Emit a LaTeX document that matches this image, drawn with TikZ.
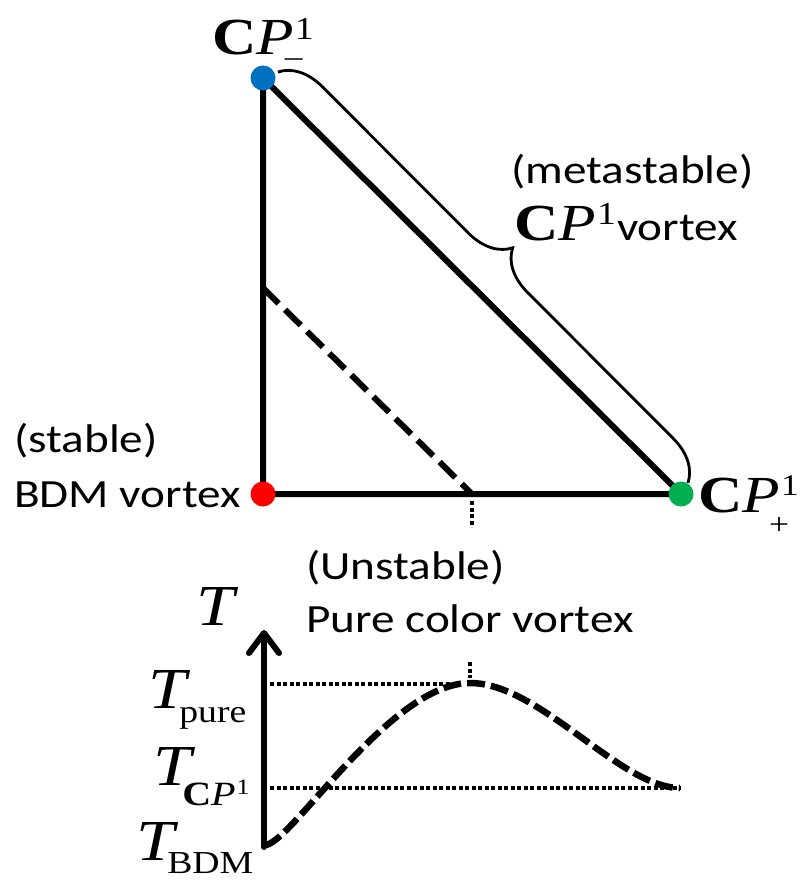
\documentclass[tikz,border=0pt]{standalone}
\usepackage{fontspec}
\setmainfont[FakeStretch=1.18]{Carlito}
\newfontfamily\tms[FakeStretch=1.18]{Liberation Serif}
\usetikzlibrary{decorations.pathreplacing,arrows.meta}
\definecolor{cpblue}{RGB}{0,112,192}
\definecolor{cpgreen}{RGB}{0,176,80}
\definecolor{bdmred}{RGB}{255,0,0}
\newcommand\sz[1]{\fontsize{#1}{#1}\selectfont}
% C P^1 with optional subscript
\newcommand\cpone[4]{{\tms\sz{#1}\upshape\bfseries C}{\tms\sz{#1}\mdseries\itshape P}\kern1pt\rlap{\raisebox{#3}{\tms\sz{#2}\upshape\mdseries 1}}#4}
\begin{document}
\begin{tikzpicture}[x=1pt,y=-1pt,
  thick line/.style={line width=6pt,line cap=round,line join=round},
  dash line/.style={line width=6pt,dash pattern=on 22pt off 9pt},
  curve dash/.style={line width=6.5pt,dash pattern=on 18pt off 6pt},
  dot line/.style={line width=4.5pt,dash pattern=on 4pt off 2.5pt},
  vdot/.style={circle,inner sep=0pt,minimum size=25pt,draw=none},
  txt/.style={inner sep=0pt,anchor=base west,font=\sz{40}},
  mth/.style={inner sep=0pt,anchor=base west},
  bracestyle/.style={line width=2.8pt,decorate,decoration={brace,amplitude=42pt,aspect=0.5}}]
\useasboundingbox (0,0) rectangle (800,880);
% triangle vertices
\coordinate (vm) at (263,78);
\coordinate (vb) at (263,494);
\coordinate (vp) at (681,494);
\draw[thick line] (vm) -- (vb) -- (vp) -- cycle;
% dashed line
\coordinate (dA) at (263,288);
\coordinate (dB) at (472,494);
\draw[dash line] (dA) -- (dB);
\coordinate (tk0) at (472,501);
\coordinate (tk1) at (472,527);
\draw[dot line] (tk0) -- (tk1);
% brace
\coordinate (br0) at (278,72);
\coordinate (br1) at (688,483);
\draw[bracestyle] (br0) -- (br1);
% dots
\node[vdot,fill=cpblue] (cpm) at (vm) {};
\node[vdot,fill=bdmred] (bdm) at (vb) {};
\node[vdot,fill=cpgreen] (cpp) at (vp) {};
% vertex labels
\node[mth] (lcpm) at (212,55) {\cpone{52}{32}{15pt}{\kern-10pt\raisebox{-12pt}{\tms\sz{30}–}}};
\node[mth] (lcpp) at (698,512) {\cpone{52}{30}{17pt}{\kern-12pt\raisebox{-22pt}{\tms\sz{30}+}}};
\node[txt] (lmeta1) at (511,183) {(metastable)};
\node[txt] (lmeta2) at (514,240) {\cpone{52}{32}{16pt}{\kern20pt}vortex};
\node[txt] (lstab1) at (14,452) {(stable)};
\node[txt] (lstab2) at (14,507) {BDM vortex};
\node[txt] (luns1) at (306,579) {(Unstable)};
\node[txt] (luns2) at (306,632) {Pure color vortex};
% lower graph
\coordinate (ax0) at (264,847);
\coordinate (ax1) at (264,630);
\draw[line width=6pt,line cap=round,-{Straight Barb[length=20pt,width=30pt,round]}] (ax0) -- (ax1);
\coordinate (p0) at (270,684);
\coordinate (p1) at (455,684);
\draw[dot line] (p0) -- (p1);
\coordinate (q0) at (270,788);
\coordinate (q1) at (680,788);
\draw[dot line] (q0) -- (q1);
\coordinate (k0) at (470,662);
\coordinate (k1) at (470,678);
\draw[dot line] (k0) -- (k1);
\coordinate (c0) at (265,845);
\coordinate (cpk) at (470,683);
\coordinate (c1) at (680,788);
\draw[curve dash] (c0) .. controls (290,845) and (390,683) .. (cpk) .. controls (540,683) and (620,788) .. (c1);
% T labels
\node[mth] (lT) at (196,625) {\tms\sz{58}\itshape T};
\node[mth] (lTpure) at (148,708) {\tms\sz{58}\itshape T\kern-7pt\raisebox{-14pt}{\sz{32}\upshape pure}};
\node[mth] (lTcp) at (153,785) {\tms\sz{58}\itshape T\kern-9pt\raisebox{-20pt}{\cpone{34}{22}{11pt}{}}};
\node[mth] (lTbdm) at (136,860) {\tms\sz{58}\itshape T\kern-7pt\raisebox{-13pt}{\sz{32}\upshape BDM}};
\end{tikzpicture}
\end{document}
